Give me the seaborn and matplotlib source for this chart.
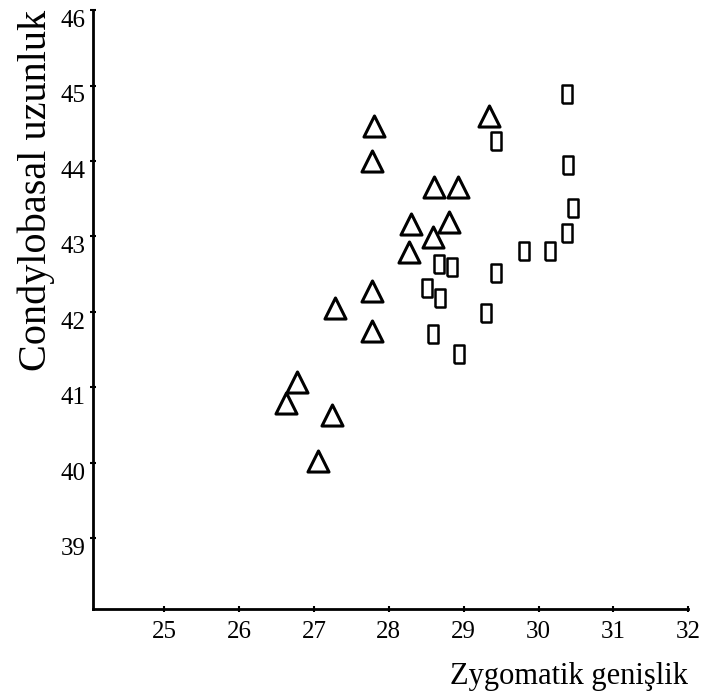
import matplotlib
matplotlib.use("Agg")
import pandas as pd
import matplotlib.pyplot as plt
import matplotlib.transforms as mtransforms
import seaborn as sns

# Triangle group (zygomatic width, condylobasal length)
tri_x = [26.63, 26.77, 27.24, 27.06, 27.28, 27.77, 27.77, 27.77, 27.80,
         28.29, 28.27, 28.59, 28.60, 28.92, 28.80, 29.34]
tri_y = [40.79, 41.07, 40.63, 40.02, 42.05, 42.28, 41.74, 44.00, 44.47,
         43.16, 42.79, 42.99, 43.65, 43.65, 43.19, 44.60]

# Rectangle group
rect_x = [30.38, 29.43, 30.39, 30.46, 30.38, 29.81, 30.15, 29.43,
          28.67, 28.84, 28.51, 28.68, 29.30, 28.59, 28.94]
rect_y = [44.89, 44.27, 43.95, 43.37, 43.05, 42.80, 42.80, 42.52,
          42.63, 42.60, 42.31, 42.18, 41.98, 41.70, 41.44]

x_ticks = [25, 26, 27, 28, 29, 30, 31, 32]
y_ticks = [39, 40, 41, 42, 43, 44, 45, 46]

tri_df = pd.DataFrame({"x": tri_x, "y": tri_y})
rect_df = pd.DataFrame({"x": rect_x, "y": rect_y})

sns.set_theme(style="ticks")
plt.rcParams['font.family'] = ['Liberation Serif', 'DejaVu Serif']

fig = plt.figure(figsize=(7.02, 6.98), dpi=100)
ax = fig.add_axes([0.1325, 0.1275, 0.848, 0.858])

rect_marker = [(-0.3, -0.5), (0.3, -0.5), (0.3, 0.5), (-0.3, 0.5), (-0.3, -0.5)]

sns.scatterplot(data=tri_df, x="x", y="y", marker="^", s=230,
                facecolor="white", edgecolor="black", linewidth=2.2, ax=ax)
sns.scatterplot(data=rect_df, x="x", y="y", marker=rect_marker, s=170,
                facecolor="white", edgecolor="black", linewidth=1.8, ax=ax)

ax.set_xlim(24.05, 32)
ax.set_ylim(38.06, 46)
ax.set_xticks(x_ticks)
ax.set_yticks(y_ticks)
ax.tick_params(axis="both", labelsize=18, direction="inout", length=5,
               width=1.5, color="black", labelcolor="black")
ax.tick_params(axis="x", pad=6)
ax.tick_params(axis="y", pad=3)

# y tick labels sit a little below their ticks in the original
shift = mtransforms.ScaledTranslation(0, -6 / 72, fig.dpi_scale_trans)
for lab in ax.get_yticklabels():
    lab.set_transform(lab.get_transform() + shift)

for side in ["top", "right"]:
    ax.spines[side].set_visible(False)
for side in ["left", "bottom"]:
    ax.spines[side].set_linewidth(2)
    ax.spines[side].set_color("black")

ax.set_xlabel("Zygomatik genişlik", fontsize=22, loc="right", labelpad=14, color="black")
ax.set_ylabel("Condylobasal uzunluk", fontsize=29, loc="top", labelpad=4, color="black")

fig.savefig("out.png", dpi=100)
